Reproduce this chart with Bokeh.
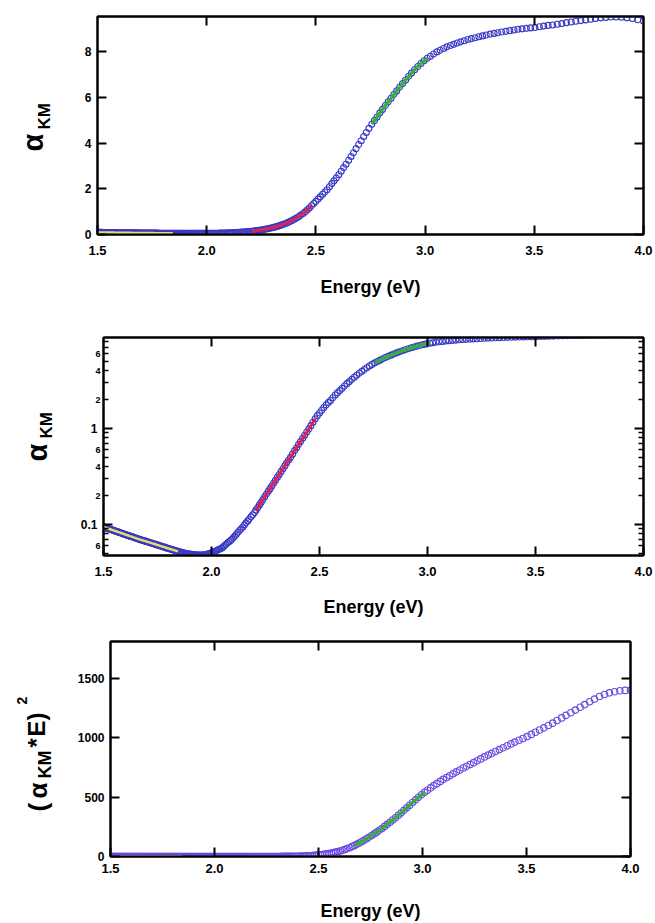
import math
from bokeh.plotting import figure
from bokeh.models import (Range1d, FixedTicker, LinearAxis, LogAxis, Label,
                          PrintfTickFormatter, NumeralTickFormatter)
from bokeh.embed import file_html
from bokeh.resources import INLINE

# ---------------- data ----------------
energy_ev = [
    4.000, 3.974, 3.949, 3.924, 3.899, 3.875, 3.851, 3.827, 3.804, 3.780,
    3.758, 3.735, 3.713, 3.690, 3.669, 3.647, 3.626, 3.605, 3.584, 3.563,
    3.543, 3.523, 3.503, 3.483, 3.464, 3.444, 3.425, 3.407, 3.388, 3.370,
    3.351, 3.333, 3.316, 3.298, 3.280, 3.263, 3.246, 3.229, 3.212, 3.196,
    3.179, 3.163, 3.147, 3.131, 3.116, 3.100, 3.085, 3.069, 3.054, 3.039,
    3.024, 3.010, 2.995, 2.981, 2.967, 2.952, 2.938, 2.925, 2.911, 2.897,
    2.884, 2.870, 2.857, 2.844, 2.831, 2.818, 2.805, 2.793, 2.780, 2.768,
    2.756, 2.743, 2.731, 2.719, 2.707, 2.696, 2.684, 2.672, 2.661, 2.650,
    2.638, 2.627, 2.616, 2.605, 2.594, 2.583, 2.573, 2.562, 2.551, 2.541,
    2.531, 2.520, 2.510, 2.500, 2.490, 2.480, 2.470, 2.460, 2.451, 2.441,
    2.431, 2.422, 2.412, 2.403, 2.394, 2.385, 2.375, 2.366, 2.357, 2.348,
    2.340, 2.331, 2.322, 2.313, 2.305, 2.296, 2.288, 2.279, 2.271, 2.263,
    2.255, 2.246, 2.238, 2.230, 2.222, 2.214, 2.206, 2.199, 2.191, 2.183,
    2.175, 2.168, 2.160, 2.153, 2.145, 2.138, 2.131, 2.123, 2.116, 2.109,
    2.102, 2.095, 2.088, 2.081, 2.074, 2.067, 2.060, 2.053, 2.046, 2.039,
    2.033, 2.026, 2.020, 2.013, 2.006, 2.000, 1.994, 1.987, 1.981, 1.975,
    1.968, 1.962, 1.956, 1.950, 1.944, 1.938, 1.931, 1.925, 1.920, 1.914,
    1.908, 1.902, 1.896, 1.890, 1.884, 1.879, 1.873, 1.867, 1.862, 1.856,
    1.851, 1.845, 1.840, 1.834, 1.829, 1.824, 1.818, 1.813, 1.808, 1.802,
    1.797, 1.792, 1.787, 1.782, 1.777, 1.771, 1.766, 1.761, 1.756, 1.751,
    1.746, 1.742, 1.737, 1.732, 1.727, 1.722, 1.717, 1.713, 1.708, 1.703,
    1.699, 1.694, 1.689, 1.685, 1.680, 1.676, 1.671, 1.667, 1.662, 1.658,
    1.653, 1.649, 1.645, 1.640, 1.636, 1.632, 1.627, 1.623, 1.619, 1.615,
    1.610, 1.606, 1.602, 1.598, 1.594, 1.590, 1.586, 1.582, 1.578, 1.574,
    1.570, 1.566, 1.562, 1.558, 1.554, 1.550, 1.546, 1.542, 1.538, 1.535,
    1.531, 1.527, 1.523, 1.520, 1.516, 1.512, 1.509, 1.505, 1.501,
]

alpha_km = [
    9.35, 9.41, 9.46, 9.49, 9.52, 9.53, 9.53, 9.51, 9.49, 9.46,
    9.43, 9.40, 9.37, 9.34, 9.31, 9.28, 9.24, 9.21, 9.18, 9.16,
    9.13, 9.10, 9.07, 9.05, 9.03, 9.01, 8.99, 8.96, 8.93, 8.90,
    8.87, 8.84, 8.81, 8.78, 8.74, 8.70, 8.66, 8.62, 8.58, 8.54,
    8.49, 8.44, 8.39, 8.33, 8.28, 8.22, 8.15, 8.07, 8.00, 7.91,
    7.81, 7.72, 7.61, 7.49, 7.36, 7.22, 7.07, 6.93, 6.77, 6.61,
    6.46, 6.29, 6.13, 5.97, 5.81, 5.65, 5.48, 5.33, 5.15, 4.99,
    4.83, 4.65, 4.47, 4.29, 4.11, 3.94, 3.76, 3.58, 3.42, 3.25,
    3.08, 2.93, 2.77, 2.62, 2.48, 2.35, 2.23, 2.09, 1.96, 1.86,
    1.76, 1.65, 1.55, 1.45, 1.36, 1.26, 1.16, 1.07, 0.99, 0.92,
    0.85, 0.79, 0.73, 0.68, 0.63, 0.59, 0.54, 0.50, 0.47, 0.44,
    0.41, 0.38, 0.355, 0.330, 0.310, 0.288, 0.270, 0.252, 0.236, 0.222,
    0.208, 0.194, 0.182, 0.170, 0.160, 0.150, 0.141, 0.133, 0.126, 0.120,
    0.114, 0.109, 0.104, 0.099, 0.094, 0.090, 0.087, 0.083, 0.079, 0.076,
    0.073, 0.070, 0.068, 0.066, 0.064, 0.062, 0.060, 0.058, 0.0565, 0.0556,
    0.0548, 0.0539, 0.0530, 0.0521, 0.0512, 0.0505, 0.0500, 0.0495, 0.0491, 0.0487,
    0.0484, 0.0482, 0.0481, 0.0480, 0.0480, 0.0481, 0.0482, 0.0483, 0.0485, 0.0487,
    0.0489, 0.0491, 0.0493, 0.0496, 0.0499, 0.0502, 0.0505, 0.0509, 0.0512, 0.0516,
    0.0520, 0.0524, 0.0529, 0.0533, 0.0538, 0.0542, 0.0547, 0.0551, 0.0556, 0.0561,
    0.0565, 0.0570, 0.0575, 0.0580, 0.0585, 0.0590, 0.0595, 0.0600, 0.0605, 0.0610,
    0.0615, 0.0620, 0.0625, 0.0630, 0.0635, 0.0640, 0.0645, 0.0650, 0.0655, 0.0660,
    0.0665, 0.0670, 0.0675, 0.0680, 0.0685, 0.0690, 0.0695, 0.0700, 0.0706, 0.0711,
    0.0717, 0.0722, 0.0728, 0.0734, 0.0739, 0.0745, 0.0751, 0.0756, 0.0762, 0.0767,
    0.0773, 0.0779, 0.0785, 0.0790, 0.0796, 0.0802, 0.0808, 0.0814, 0.0820, 0.0826,
    0.0832, 0.0838, 0.0844, 0.0850, 0.0856, 0.0862, 0.0868, 0.0874, 0.0880, 0.0886,
    0.0892, 0.0898, 0.0904, 0.0910, 0.0916, 0.0922, 0.0928, 0.0934, 0.0940,
]

# quantity of the third panel: (alpha_KM * E)^2
tauc_y = [(a * e) ** 2 for e, a in zip(energy_ev, alpha_km)]

# highlighted (fit) energy windows
fit_low = (1.50, 1.85)
fit_urbach = (2.20, 2.48)
fit_mid = (2.75, 3.02)
fit_tauc = (2.67, 3.02)

x_ticks = [1.5, 2.0, 2.5, 3.0, 3.5, 4.0]
x_ticks_top = [2.0, 2.5, 3.0, 3.5]
y1_ticks = [0, 2, 4, 6, 8]
y2_major = [0.1, 1]
y2_minor = [0.05, 0.06, 0.07, 0.08, 0.09, 0.2, 0.3, 0.4, 0.5, 0.6, 0.7, 0.8, 0.9,
            2, 3, 4, 5, 6, 7, 8]
y2_small_vals = [0.06, 0.2, 0.4, 0.6, 2, 4, 6]
y2_small_text = ["6", "2", "4", "6", "2", "4", "6"]
y3_ticks = [0, 500, 1000, 1500]

FONT = "Liberation Sans"
BLUE = "#3838c4"
PURPLE = "#6a48e2"
YELLOW = "#e2de6a"
TAN = "#f0c47c"
RED = "#dc2454"
GREEN = "#38ad46"

PAGE_W, PAGE_H = 655, 923


def subset(xs, ys, lo, hi):
    pts = sorted((x, y) for x, y in zip(xs, ys) if lo <= x <= hi)
    return [p[0] for p in pts], [p[1] for p in pts]


def style_axis(ax, ticks, fmt, labels=True, size="12px", minor=None, standoff=6):
    ax.ticker = FixedTicker(ticks=ticks, minor_ticks=minor or [])
    ax.formatter = fmt
    ax.major_tick_in = 9
    ax.major_tick_out = 0
    ax.minor_tick_in = 5
    ax.minor_tick_out = 0
    ax.major_tick_line_width = 2
    ax.minor_tick_line_width = 1.5
    ax.axis_line_width = 2
    ax.major_tick_line_color = "black"
    ax.minor_tick_line_color = "black"
    ax.axis_line_color = "black"
    ax.major_label_text_font = FONT
    ax.major_label_text_font_style = "bold"
    ax.major_label_text_color = "black"
    ax.major_label_text_font_size = size
    ax.major_label_standoff = standoff
    if not labels:
        ax.major_label_text_color = None
        ax.major_label_text_font_size = "1px"
        ax.major_label_standoff = 0


def base_fig(h, y_range, borders, y_type="linear"):
    l, r, t, b = borders
    p = figure(width=PAGE_W, height=h, x_range=Range1d(1.5, 4.0), y_range=y_range,
               y_axis_type=y_type, output_backend="svg", toolbar_location=None,
               min_border_left=l, min_border_right=r, min_border_top=t, min_border_bottom=b)
    p.grid.visible = False
    p.outline_line_color = "black"
    p.outline_line_width = 2
    p.background_fill_color = "white"
    p.border_fill_color = "white"
    return p


def add_x_axes(p, label_standoff, title_standoff):
    ax = p.xaxis[0]
    style_axis(ax, x_ticks, PrintfTickFormatter(format="%.1f"), size="13px",
               standoff=label_standoff)
    ax.axis_label = "Energy (eV)"
    ax.axis_label_text_font = FONT
    ax.axis_label_text_font_style = "bold"
    ax.axis_label_text_font_size = "18px"
    ax.axis_label_text_color = "black"
    ax.axis_label_standoff = title_standoff
    top = LinearAxis()
    style_axis(top, x_ticks_top, PrintfTickFormatter(format="%.1f"), labels=False)
    p.add_layout(top, "above")


# ---------------- panel 1 : linear alpha ----------------
p1 = base_fig(300, Range1d(0, 9.55), (97, 12, 16, 66))
add_x_axes(p1, 11, 19)
style_axis(p1.yaxis[0], y1_ticks, PrintfTickFormatter(format="%d"))
r1 = LinearAxis()
style_axis(r1, y1_ticks, PrintfTickFormatter(format="%d"), labels=False)
p1.add_layout(r1, "right")
p1.scatter(energy_ev, alpha_km, marker="circle", size=6, fill_color=None,
           line_color=BLUE, line_width=1.1)
for (lo, hi), c, w in ((fit_low, YELLOW, 2.5), (fit_urbach, RED, 3), (fit_mid, GREEN, 3.5)):
    xs, ys = subset(energy_ev, alpha_km, lo, hi)
    p1.line(xs, ys, line_color=c, line_width=w)

# ---------------- panel 2 : log alpha ----------------
P2_TOP = 300                      # canvas offset of panel 2 on the page
F2_TOP, F2_BOT = 37, 255          # frame top / bottom on its canvas
Y2_LO, Y2_HI = 0.0475, 8.87
p2 = base_fig(320, Range1d(Y2_LO, Y2_HI), (103, 12, F2_TOP, 320 - F2_BOT), y_type="log")
add_x_axes(p2, 11, 18)
style_axis(p2.yaxis[0], y2_major, NumeralTickFormatter(format="0.[0]"), minor=y2_minor)
r2 = LogAxis()
style_axis(r2, y2_major, NumeralTickFormatter(format="0.[0]"), labels=False, minor=y2_minor)
p2.add_layout(r2, "right")
p2.scatter(energy_ev, alpha_km, marker="circle", size=6, fill_color=None,
           line_color=BLUE, line_width=1.1)
for (lo, hi), c, w in ((fit_low, YELLOW, 2.5), (fit_urbach, RED, 3), (fit_mid, GREEN, 3.5)):
    xs, ys = subset(energy_ev, alpha_km, lo, hi)
    p2.line(xs, ys, line_color=c, line_width=w)

# ---------------- panel 3 : (alpha*E)^2 ----------------
p3 = base_fig(303, Range1d(0, 1810), (110, 25, 21, 65))
add_x_axes(p3, 7, 25)
style_axis(p3.yaxis[0], y3_ticks, PrintfTickFormatter(format="%d"))
r3 = LinearAxis()
style_axis(r3, y3_ticks, PrintfTickFormatter(format="%d"), labels=False)
p3.add_layout(r3, "right")
p3.scatter(energy_ev, tauc_y, marker="circle", size=6.5, fill_color=None,
           line_color=PURPLE, line_width=1.1)
for (lo, hi), c, w in ((fit_low, TAN, 2.5), (fit_tauc, GREEN, 3.5)):
    xs, ys = subset(energy_ev, tauc_y, lo, hi)
    p3.line(xs, ys, line_color=c, line_width=w)

# ---------------- transparent text layer over the whole page ----------------
# (rotated axis titles with sub/superscripts and the small log-axis labels)
ov = figure(width=PAGE_W, height=PAGE_H, x_range=Range1d(0, PAGE_W),
            y_range=Range1d(PAGE_H, 0), x_axis_type=None, y_axis_type=None,
            min_border=0, toolbar_location=None, output_backend="svg")
ov.outline_line_color = None
ov.background_fill_color = None
ov.border_fill_color = None
ov.styles = {"position": "absolute", "left": "0px", "top": "0px"}


def page_text(text, x, y, size, angle=math.pi / 2, align="left", baseline="middle"):
    ov.add_layout(Label(x=x, y=y, text=text, angle=angle, text_font=FONT,
                        text_font_style="bold", text_font_size=size, text_color="black",
                        text_align=align, text_baseline=baseline))


# panel 1 y title
page_text("α", 32, 151, "29px")
page_text("KM", 44, 129, "17px")
# panel 2 y title
page_text("α", 36, 461, "29px")
page_text("KM", 46, 438, "17px")
# panel 2 small minor-tick labels, placed with the panel's log scale
span = math.log10(Y2_HI) - math.log10(Y2_LO)
for v, t in zip(y2_small_vals, y2_small_text):
    frac = (math.log10(Y2_HI) - math.log10(v)) / span
    y_page = P2_TOP + F2_TOP + frac * (F2_BOT - F2_TOP)
    page_text(t, 100, y_page, "9px", angle=0, align="right", baseline="middle")
# panel 3 y title: (alpha_KM * E)^2
page_text("(", 37, 811, "26px")
page_text("α", 37, 798, "26px")
page_text("KM", 44, 778, "18px")
page_text("*", 36, 747, "24px")
page_text("E", 36, 736, "24px")
page_text(")", 36, 720, "24px")
page_text("2", 21, 704, "14px")

open("out.html", "w").write(file_html([p1, p2, p3, ov], INLINE))
